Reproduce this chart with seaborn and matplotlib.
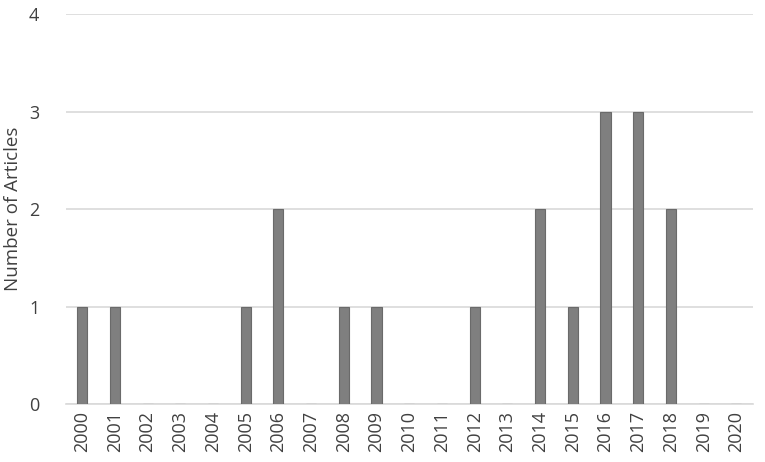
import matplotlib
matplotlib.use("Agg")
import matplotlib.pyplot as plt
import seaborn as sns
import pandas as pd

years = [str(y) for y in range(2000, 2021)]
counts = [1, 1, 0, 0, 0, 1, 2, 0, 1, 1, 0, 0, 1, 0, 2, 1, 3, 3, 2, 0, 0]
y_ticks = [0, 1, 2, 3, 4]

sns.set_theme(style="white")
plt.rcParams['font.family'] = ['Open Sans', 'DejaVu Sans']

df = pd.DataFrame({"Year": years, "Articles": counts})

fig = plt.figure(figsize=(7.65, 4.62), dpi=100)
ax = fig.add_axes([0.086, 0.1255, 0.898, 0.8442])
sns.barplot(data=df, x="Year", y="Articles", color="#7f7f7f", width=0.31,
            edgecolor="#6a6a6a", linewidth=0.8, saturation=1, ax=ax, zorder=3)
ax.set_ylim(0, 4)
ax.set_yticks(y_ticks)
ax.set_yticklabels([str(t) for t in y_ticks])
ax.grid(axis="y", color="#d9d9d9", linewidth=1.2, zorder=0)
for s in ["top", "right", "left"]:
    ax.spines[s].set_visible(False)
ax.spines["bottom"].set_color("#d9d9d9")
ax.spines["bottom"].set_linewidth(1.2)
ax.tick_params(axis="x", rotation=90, labelsize=13, colors="#404040", length=0, pad=5)
ax.tick_params(axis="y", labelsize=13, colors="#404040", length=0, pad=19)
ax.set_xlabel("")
ax.set_ylabel("Number of Articles", fontsize=13.5, color="#404040", labelpad=5)
fig.savefig("out.png", dpi=100)
